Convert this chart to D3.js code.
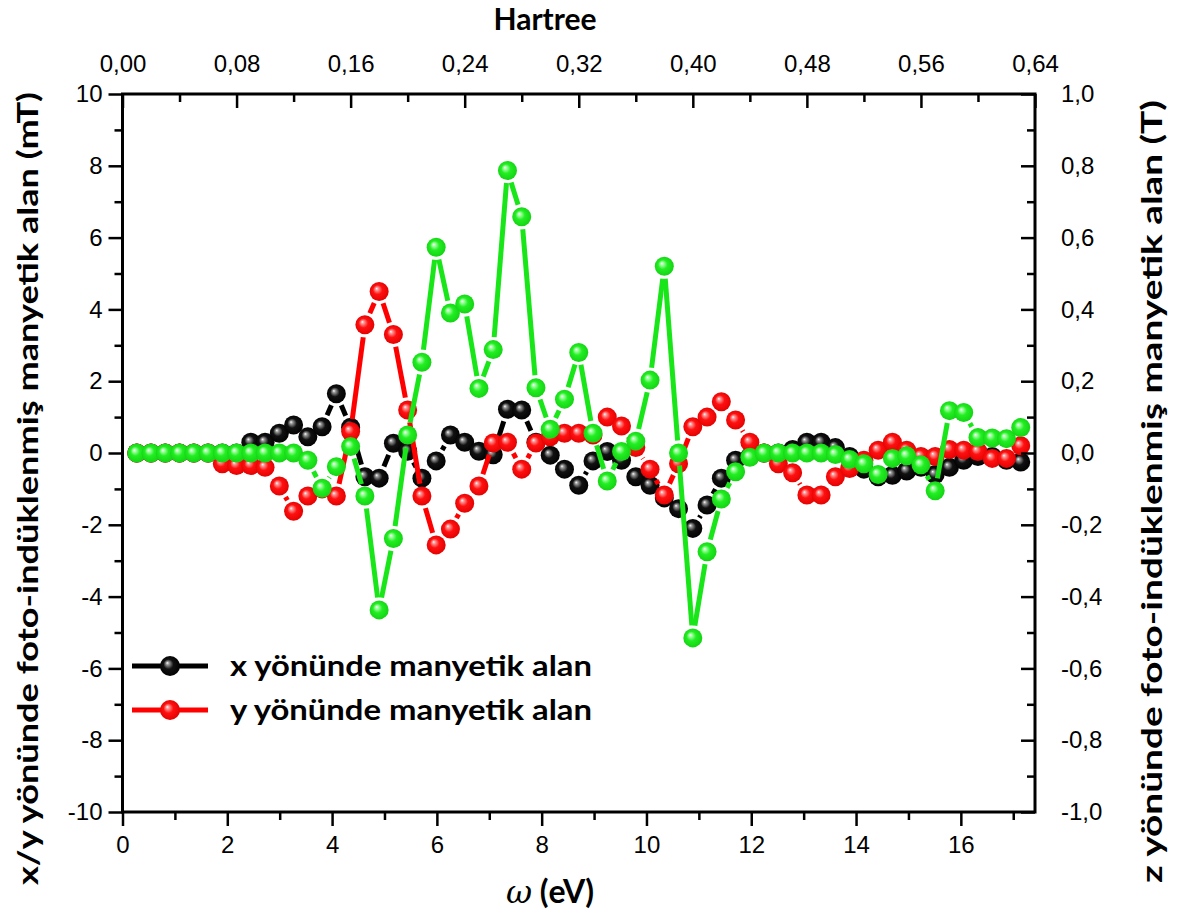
<!DOCTYPE html>
<html>
<head>
<meta charset="utf-8">
<script src="https://cdn.jsdelivr.net/npm/d3@7"></script>
<style>
  html, body { margin: 0; padding: 0; background: #fff; }
  svg { display: block; }
</style>
</head>
<body>
<svg id="chart" width="1180" height="917"></svg>
<script>
// Photon energy of each sample, in Hartree (top axis); the bottom axis shows the same energies in eV.
const hartree = [
  0.01, 0.02, 0.03, 0.04, 0.05, 0.06, 0.07, 0.08, 0.09, 0.10,
  0.11, 0.12, 0.13, 0.14, 0.15, 0.16, 0.17, 0.18, 0.19, 0.20,
  0.21, 0.22, 0.23, 0.24, 0.25, 0.26, 0.27, 0.28, 0.29, 0.30,
  0.31, 0.32, 0.33, 0.34, 0.35, 0.36, 0.37, 0.38, 0.39, 0.40,
  0.41, 0.42, 0.43, 0.44, 0.45, 0.46, 0.47, 0.48, 0.49, 0.50,
  0.51, 0.52, 0.53, 0.54, 0.55, 0.56, 0.57, 0.58, 0.59, 0.60,
  0.61, 0.62, 0.63
];

// Photo-induced magnetic field along x (mT)
const bx = [
  0, 0, 0, 0, 0, 0, 0, 0, 0.30, 0.30,
  0.55, 0.78, 0.45, 0.73, 1.65, 0.72, -0.66, -0.70, 0.27, 0.05,
  -0.70, -0.22, 0.50, 0.30, 0.05, -0.05, 1.22, 1.20, 0.30, -0.06,
  -0.45, -0.90, -0.22, 0.04, -0.20, -0.66, -0.90, -1.25, -1.55, -2.10,
  -1.45, -0.70, -0.20, -0.10, 0.00, 0.00, 0.10, 0.30, 0.30, 0.15,
  -0.10, -0.45, -0.66, -0.62, -0.50, -0.40, -0.60, -0.40, -0.20, -0.10,
  -0.10, -0.20, -0.25
];

// Photo-induced magnetic field along y (mT)
const by = [
  0, 0, 0, 0, 0, 0, -0.30, -0.35, -0.35, -0.40,
  -0.92, -1.62, -1.20, -1.00, -1.20, 0.60, 3.57, 4.50, 3.30, 1.20,
  -1.20, -2.56, -2.12, -1.40, -0.92, 0.28, 0.30, -0.45, 0.28, 0.45,
  0.55, 0.55, 0.50, 1.00, 0.75, 0.15, -0.45, -1.17, -0.30, 0.73,
  1.00, 1.43, 0.92, 0.30, 0.00, -0.30, -0.55, -1.17, -1.17, -0.66,
  -0.43, -0.20, 0.08, 0.30, 0.08, -0.10, -0.10, 0.10, 0.08, 0.04,
  -0.15, -0.15, 0.20
];

// Photo-induced magnetic field along z (T), right axis
const bz = [
  0, 0, 0, 0, 0, 0, 0, 0, 0, 0,
  0, 0, -0.020, -0.098, -0.038, 0.018, -0.120, -0.437, -0.238, 0.050,
  0.253, 0.573, 0.390, 0.415, 0.180, 0.288, 0.787, 0.658, 0.182, 0.066,
  0.150, 0.280, 0.055, -0.078, 0.004, 0.033, 0.203, 0.520, 0.000, -0.515,
  -0.275, -0.128, -0.052, -0.012, 0.000, 0.000, 0.000, 0.000, 0.000, -0.004,
  -0.018, -0.030, -0.060, -0.015, -0.008, -0.033, -0.105, 0.118, 0.113, 0.043,
  0.042, 0.040, 0.071
];

const legendLabels = ["x yönünde manyetik alan", "y yönünde manyetik alan"];
const leftTitle = "x/y yönünde foto-indüklenmiş manyetik alan (mT)";
const rightTitle = "z yönünde foto-indüklenmiş manyetik alan (T)";
const topTitle = "Hartree";

const HARTREE_EV = 27.2114;
const hartreeMax = 0.64;

const svg = d3.select("#chart");
const L = 122.5, R = 1035, T = 94, B = 812;

const xH = d3.scaleLinear().domain([0, hartreeMax]).range([L, R]);
const xE = d3.scaleLinear().domain([0, hartreeMax * HARTREE_EV]).range([L, R]);
const yL = d3.scaleLinear().domain([-10, 10]).range([B, T]);
const yR = d3.scaleLinear().domain([-1, 1]).range([B, T]);

const tickFont = "'Liberation Sans', Arial, sans-serif";
const boldFont = "Lato, 'Open Sans', sans-serif";

// ---- sphere gradients for the markers
const defs = svg.append("defs");
function sphere(id, light, mid, dark) {
  const g = defs.append("radialGradient").attr("id", id)
    .attr("cx", "0.5").attr("cy", "0.5").attr("r", "0.55")
    .attr("fx", "0.36").attr("fy", "0.34");
  g.append("stop").attr("offset", "0%").attr("stop-color", "#ffffff");
  g.append("stop").attr("offset", "14%").attr("stop-color", light);
  g.append("stop").attr("offset", "45%").attr("stop-color", mid);
  g.append("stop").attr("offset", "100%").attr("stop-color", dark);
}
sphere("ballBlack", "#9a9a9a", "#111111", "#000000");
sphere("ballRed", "#ff9a9a", "#ff1010", "#e00000");
sphere("ballGreen", "#a8ffa8", "#22ee22", "#12d012");

const series = [
  { values: bx, y: yL, line: "#000000", ball: "url(#ballBlack)" },
  { values: by, y: yL, line: "#ff0000", ball: "url(#ballRed)" },
  { values: bz, y: yR, line: "#19e619", ball: "url(#ballGreen)" }
];

const RAD = 9.5, GAP = 3;

series.forEach(s => {
  const pts = hartree.map((h, i) => [xH(h), s.y(s.values[i])]);
  const g = svg.append("g");
  // connecting segments, stopped short of each ball
  const segs = d3.pairs(pts).map(([a, b]) => {
    const dx = b[0] - a[0], dy = b[1] - a[1];
    const len = Math.hypot(dx, dy);
    const cut = RAD + GAP;
    if (len <= 2 * cut) return null;
    const ux = dx / len, uy = dy / len;
    return [a[0] + ux * cut, a[1] + uy * cut, b[0] - ux * cut, b[1] - uy * cut];
  }).filter(d => d);
  g.selectAll("line").data(segs).join("line")
    .attr("x1", d => d[0]).attr("y1", d => d[1])
    .attr("x2", d => d[2]).attr("y2", d => d[3])
    .attr("stroke", s.line).attr("stroke-width", 5);
  g.selectAll("circle").data(pts).join("circle")
    .attr("cx", d => d[0]).attr("cy", d => d[1]).attr("r", RAD)
    .attr("fill", s.ball);
});

// ---- axes
function styleAxis(g, fs) {
  g.select(".domain").remove();
  g.selectAll(".tick line").attr("stroke", "#000").attr("stroke-width", 2.5);
  g.selectAll(".tick text").attr("font-family", tickFont).attr("font-size", fs).attr("fill", "#000");
}
// plain hyphen for negatives, decimal comma
const num = f => v => f(v).replace("\u2212", "-").replace(".", ",");
const fmtInt = num(d3.format("d")), fmt1 = num(d3.format(".1f")), fmt2 = num(d3.format(".2f"));

// bottom (eV): outward ticks
const eVMajor = d3.range(0, 17, 2);
const eVMinor = d3.range(1, 18, 2);
svg.append("g").attr("transform", `translate(0,${B})`)
  .call(d3.axisBottom(xE).tickValues(eVMinor).tickSize(8).tickFormat(""))
  .call(g => styleAxis(g, 24));
svg.append("g").attr("transform", `translate(0,${B})`)
  .call(d3.axisBottom(xE).tickValues(eVMajor).tickSize(14).tickPadding(10).tickFormat(fmtInt))
  .call(g => styleAxis(g, 24));

// top (Hartree): inward ticks
const hMajor = [0, 0.08, 0.16, 0.24, 0.32, 0.40, 0.48, 0.56, 0.64];
const hMinor = [0.04, 0.12, 0.20, 0.28, 0.36, 0.44, 0.52, 0.60];
svg.append("g").attr("transform", `translate(0,${T})`)
  .call(d3.axisTop(xH).tickValues(hMinor).tickSizeInner(-8).tickSizeOuter(0).tickFormat(""))
  .call(g => styleAxis(g, 24));
svg.append("g").attr("transform", `translate(0,${T})`)
  .call(d3.axisTop(xH).tickValues(hMajor).tickSizeInner(-14).tickSizeOuter(0).tickPadding(22).tickFormat(fmt2))
  .call(g => styleAxis(g, 24));

// left (mT): outward ticks
const lMajor = d3.range(-10, 11, 2);
const lMinor = d3.range(-9, 10, 2);
svg.append("g").attr("transform", `translate(${L},0)`)
  .call(d3.axisLeft(yL).tickValues(lMinor).tickSize(8).tickFormat(""))
  .call(g => styleAxis(g, 24));
svg.append("g").attr("transform", `translate(${L},0)`)
  .call(d3.axisLeft(yL).tickValues(lMajor).tickSize(14).tickPadding(6).tickFormat(fmtInt))
  .call(g => styleAxis(g, 24));

// right (T): inward ticks
const rMajor = [-1, -0.8, -0.6, -0.4, -0.2, 0, 0.2, 0.4, 0.6, 0.8, 1];
const rMinor = [-0.9, -0.7, -0.5, -0.3, -0.1, 0.1, 0.3, 0.5, 0.7, 0.9];
svg.append("g").attr("transform", `translate(${R},0)`)
  .call(d3.axisRight(yR).tickValues(rMinor).tickSizeInner(-8).tickSizeOuter(0).tickFormat(""))
  .call(g => styleAxis(g, 24));
svg.append("g").attr("transform", `translate(${R},0)`)
  .call(d3.axisRight(yR).tickValues(rMajor).tickSizeInner(-14).tickSizeOuter(0).tickPadding(26).tickFormat(fmt1))
  .call(g => styleAxis(g, 24));

// frame
svg.append("rect").attr("x", L).attr("y", T).attr("width", R - L).attr("height", B - T)
  .attr("fill", "none").attr("stroke", "#000").attr("stroke-width", 3);

// ---- titles
svg.append("text").attr("x", 545).attr("y", 30).attr("text-anchor", "middle")
  .attr("font-family", boldFont).attr("font-weight", "bold").attr("font-size", 30)
  .text(topTitle);

const xt = svg.append("text").attr("x", 550).attr("y", 903).attr("text-anchor", "middle")
  .attr("font-family", boldFont).attr("font-weight", "bold").attr("font-size", 32);
xt.append("tspan").attr("font-family", "'DejaVu Serif', serif").attr("font-style", "italic").attr("font-weight", "normal").text("ω");
xt.append("tspan").text(" (eV)");

svg.append("text")
  .attr("transform", `translate(38,${(885 + 92) / 2}) rotate(-90)`)
  .attr("text-anchor", "middle")
  .attr("font-family", boldFont).attr("font-weight", "bold").attr("font-size", 29)
  .attr("textLength", 793).attr("lengthAdjust", "spacingAndGlyphs")
  .text(leftTitle);

svg.append("text")
  .attr("transform", `translate(1162,${(883 + 100) / 2}) rotate(-90)`)
  .attr("text-anchor", "middle")
  .attr("font-family", boldFont).attr("font-weight", "bold").attr("font-size", 29)
  .attr("textLength", 783).attr("lengthAdjust", "spacingAndGlyphs")
  .text(rightTitle);

// ---- legend
const legend = svg.append("g");
const legendItems = [
  { label: legendLabels[0], line: "#000000", ball: "url(#ballBlack)", y: 666 },
  { label: legendLabels[1], line: "#ff0000", ball: "url(#ballRed)", y: 710 }
];
legendItems.forEach(it => {
  legend.append("line").attr("x1", 132).attr("x2", 208).attr("y1", it.y).attr("y2", it.y)
    .attr("stroke", it.line).attr("stroke-width", 5);
  legend.append("circle").attr("cx", 170).attr("cy", it.y).attr("r", RAD + 0.5).attr("fill", it.ball);
  legend.append("text").attr("x", 230).attr("y", it.y + 10)
    .attr("font-family", boldFont).attr("font-weight", "bold").attr("font-size", 29)
    .attr("textLength", 362).attr("lengthAdjust", "spacingAndGlyphs")
    .text(it.label);
});
</script>
</body>
</html>
